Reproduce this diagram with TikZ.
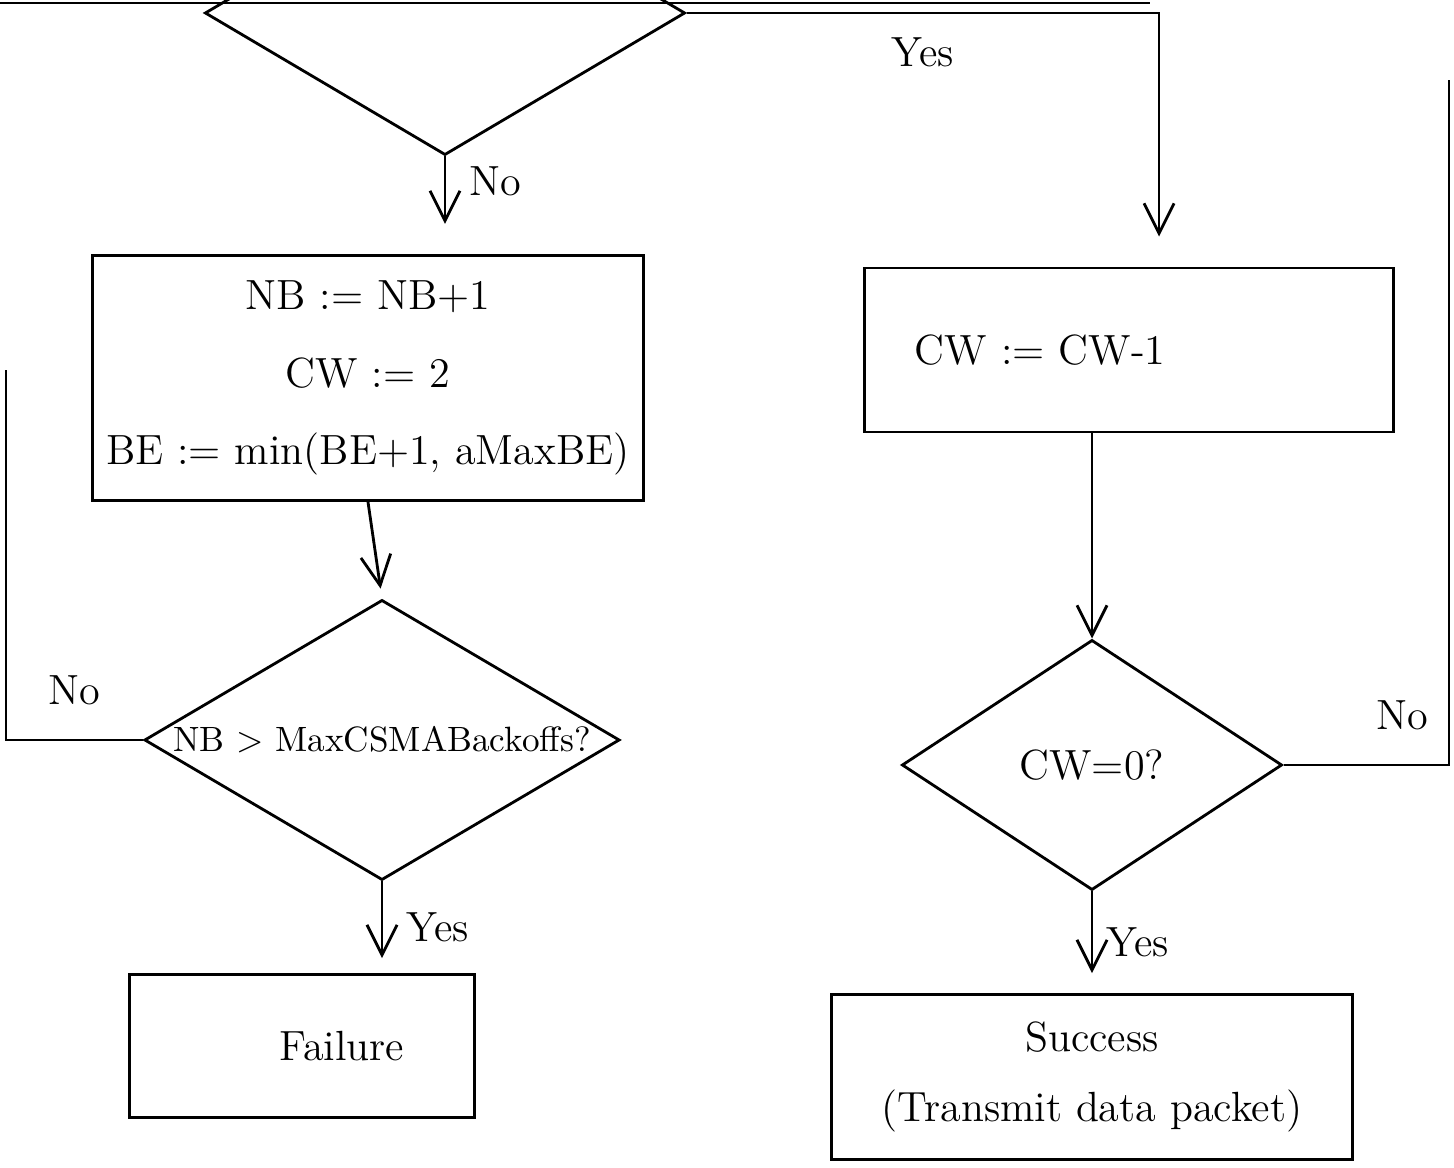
\documentclass[tikz,border=0pt]{standalone}
\usepackage{tikz}
\usetikzlibrary{arrows.meta,positioning,shapes.geometric}

\begin{document}
\begin{tikzpicture}[x=0.01cm, y=-0.01cm,
    box/.style={draw, thick, align=center, font=\large, inner sep=4pt},
    decision/.style={draw, thick, diamond, inner sep=0pt, font=\large},
    arrow/.style={-{Straight Barb[length=3mm, width=3mm]}, thick},
    link/.style={thick},
    tag/.style={font=\large, inner sep=1pt}
  ]
    \useasboundingbox (0,0) rectangle (1454,1168);
    \fill[white] (0,0) rectangle (1454,1168);
    \draw[link] (0,3) -- (1150,3);
    \node[decision, minimum width=4.8cm, minimum height=2.84cm] (prev) at (445,13) {};
    \node[box, minimum width=5.5cm, minimum height=2.45cm] (backoff) at (368,378) {NB := NB+1\\[8pt]CW := 2\\[8pt]BE := min(BE+1, aMaxBE)};
    \node[box, minimum width=5.28cm, minimum height=1.64cm, text width=4.28cm, inner xsep=5mm, align=left] (decr) at (1129,350) {CW := CW-1};
    \node[decision, minimum width=4.75cm, minimum height=2.8cm, label={[font=\normalsize]center:NB > MaxCSMABackoffs?}] (maxchk) at (382,740) {};
    \node[decision, minimum width=3.8cm, minimum height=2.5cm, label={[font=\large]center:CW=0?}] (zerochk) at (1092,765) {};
    \node[box, minimum width=3.45cm, minimum height=1.43cm] (fail) at (302,1046) {\hspace*{8mm}Failure};
    \node[box, minimum width=5.2cm, minimum height=1.65cm] (succ) at (1092,1077) {Success\\[6pt](Transmit data packet)};
    \coordinate (leftexit) at (6,370);
    \coordinate (rightexit) at (1449,80);
    \draw[arrow, shorten >=3mm] (prev.south) -- (prev.south |- backoff.north) node[tag, pos=0.25, right=2mm] {No};
    \draw[arrow, shorten >=3mm] (prev.east) -| ([xshift=3mm]decr.north) node[tag, pos=0.25, below=2mm] {Yes};
    \draw[arrow, shorten >=1mm] (backoff.south) -- (maxchk.north);
    \draw[link] (maxchk.west) -| (leftexit) node[tag, pos=0.25, above=3mm] {No};
    \draw[arrow, shorten >=1.5mm] (maxchk.south) -- (maxchk.south |- fail.north) node[tag, midway, right=2mm] {Yes};
    \draw[arrow] (zerochk.north |- decr.south) -- (zerochk.north);
    \draw[link] (zerochk.east) -| (rightexit) node[tag, pos=0.36, above=3mm] {No};
    \draw[arrow, shorten >=2mm] (zerochk.south) -- (zerochk.south |- succ.north) node[tag, midway, right=1mm] {Yes};
  \end{tikzpicture}
\end{document}
